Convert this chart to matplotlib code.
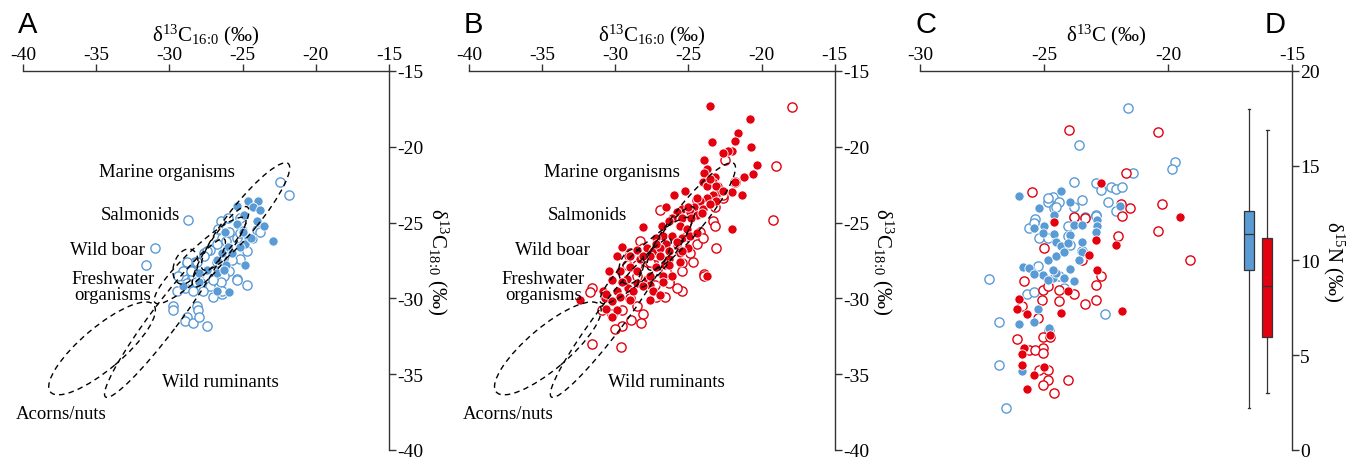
import numpy as np
import matplotlib
matplotlib.use("Agg")
import matplotlib.pyplot as plt
from matplotlib.patches import Ellipse

plt.rcParams['font.family'] = ['Liberation Serif', 'DejaVu Serif']
plt.rcParams['mathtext.fontset'] = 'custom'
plt.rcParams['mathtext.rm'] = 'Liberation Serif'
plt.rcParams['mathtext.default'] = 'regular'
plt.rcParams['axes.unicode_minus'] = False

BLUE = '#5b9bd5'
RED = '#e3000f'

# reference ellipses (delta13C16:0, delta13C18:0)
ell_names = ['Marine organisms', 'Salmonids', 'Wild boar', 'Freshwater organisms', 'Wild ruminants', 'Acorns/nuts']
ell_cx = [-24.8, -26.5, -28.9, -27.9, -30.3, -34.6]
ell_cy = [-24.6, -26.6, -27.9, -27.5, -31.3, -33.3]
ell_w = [9.1, 6.4, 2.4, 8.3, 13.2, 9.1]
ell_h = [2.0, 1.5, 1.6, 1.75, 1.9, 2.8]
ell_ang = [50, 55, 70, 42, 52, 39]

lab_text = ['Marine organisms', 'Salmonids', 'Wild boar', 'Freshwater\norganisms', 'Wild ruminants', 'Acorns/nuts']
lab_ha = ['right', 'right', 'right', 'center', 'left', 'left']
lab_y = [-21.6, -24.5, -26.8, -29.2, -35.5, -37.6]
lab_xA = [-25.5, -29.3, -31.7, -33.85, -30.5, -40.5]
lab_xB = [-25.6, -29.2, -31.7, -34.9, -30.5, -40.4]

# panel A (blue)
a_fill_x = [-24.6, -23.95, -25.4, -24.3, -23.8, -24.9, -24.0, -23.5, -26.2, -25.4, -25.0, -24.6, -24.3, -22.9,
            -26.0, -24.8, -25.2, -25.7, -26.75, -27.4, -26.1, -27.9, -24.8, -29.1, -26.75, -25.9, -28.0,
            -26.4, -26.75, -26.3, -28.0, -24.4, -25.0]
a_fill_y = [-23.6, -23.55, -23.9, -23.95, -24.2, -24.5, -24.9, -25.2, -25.6, -25.1, -25.5, -26.0, -26.1, -26.2,
            -26.6, -26.4, -26.6, -27.0, -27.5, -28.1, -27.8, -28.4, -27.8, -29.2, -29.5, -29.6, -28.95,
            -27.0, -28.3, -28.1, -28.3, -26.05, -25.6]
a_open_x = [-22.45, -21.8, -28.7, -31.0, -31.6, -26.5, -26.0, -25.2, -26.7, -25.9, -26.4, -26.75, -25.4, -26.1,
            -25.2, -24.0, -24.7, -25.2, -25.9, -27.2, -27.6, -26.5, -25.9, -25.4, -26.3, -26.9, -27.2, -24.7,
            -26.5, -28.25, -28.8, -28.8, -28.4, -29.1, -28.7, -28.2, -29.5, -27.7, -26.4, -29.75, -28.1,
            -27.4, -27.6, -28.8, -28.1, -29.1, -28.5, -29.4, -27.9, -28.8, -28.9, -28.4, -27.0, -26.4, -25.4,
            -25.7, -23.8, -29.75, -28.05, -28.8, -28.9, -28.4, -28.0, -27.4, -27.0, -26.75]
a_open_y = [-22.3, -23.2, -24.8, -26.7, -27.8, -24.9, -24.7, -24.7, -25.4, -25.6, -26.05, -26.4, -26.05, -26.2,
            -25.7, -25.5, -26.9, -27.4, -27.2, -26.8, -27.0, -28.0, -28.2, -28.75, -28.5, -28.7, -29.2, -29.1,
            -28.9, -27.6, -27.7, -28.2, -28.55, -28.55, -29.2, -28.95, -29.5, -29.5, -29.7, -30.5, -30.5,
            -26.9, -27.2, -27.6, -27.6, -28.2, -28.2, -28.55, -28.9, -29.0, -29.3, -29.5, -29.9, -29.5, -28.8,
            -27.5, -25.6, -30.8, -30.8, -31.2, -31.5, -31.6, -31.25, -31.8, -28.8, -27.6]

# panel B (red)
b_fill_x = [-23.5, -20.8, -21.6, -21.8, -23.4, -20.7, -22.0, -22.3, -22.6, -23.95, -20.3, -23.7, -20.6, -23.95,
            -21.2, -21.8, -23.2, -24.0, -23.3, -23.75, -23.0, -22.0, -21.3, -22.9, -25.25, -26.0, -23.3, -23.75,
            -24.2, -24.4, -23.1, -22.0, -28.1, -26.5, -25.4, -24.6, -24.9, -25.8, -26.1, -25.4, -24.4, -24.0,
            -23.5, -23.5, -23.1, -22.65, -24.1, -25.0, -24.8, -26.8, -26.3, -25.6, -25.1, -26.75, -26.1, -27.2,
            -25.4, -26.5, -25.8, -29.5, -28.5, -27.85, -27.4, -26.95, -26.3, -25.6, -25.0, -29.9, -29.1, -28.3,
            -27.6, -26.95, -26.3, -25.6, -30.4, -29.7, -29.0, -28.5, -27.2, -26.6, -30.2, -29.2, -27.85, -26.75,
            -26.1, -30.85, -29.9, -29.1, -28.5, -27.6, -30.7, -29.7, -27.6, -32.4, -23.75, -27.2, -25.8, -24.9,
            -24.4, -29.0, -28.1, -29.5, -27.6, -26.3, -25.4, -30.6, -28.8, -28.1, -27.4, -26.75, -30.2, -29.0,
            -26.95, -30.6, -29.9, -30.2]
b_fill_y = [-17.3, -18.2, -19.1, -19.6, -19.7, -20.0, -20.3, -20.3, -20.4, -20.9, -21.2, -21.5, -21.8, -21.7,
            -22.0, -22.3, -22.0, -22.3, -22.3, -22.6, -22.6, -23.0, -23.2, -23.0, -22.9, -23.2, -23.2, -23.4,
            -23.55, -23.4, -23.55, -25.4, -25.3, -23.95, -24.1, -23.95, -24.3, -24.3, -24.7, -24.7, -24.5, -24.1,
            -23.75, -22.1, -22.6, -22.9, -24.4, -23.95, -24.7, -25.2, -24.9, -25.2, -25.4, -25.9, -25.9, -26.05,
            -26.05, -26.4, -26.5, -26.6, -26.8, -26.7, -26.9, -26.7, -26.9, -27.0, -26.7, -27.2, -27.2, -27.4,
            -27.2, -27.2, -27.4, -27.6, -28.2, -28.2, -27.9, -28.2, -27.9, -27.8, -28.8, -28.7, -28.7, -28.5,
            -28.5, -29.5, -29.5, -29.3, -29.0, -29.1, -30.0, -29.9, -30.1, -30.1, -28.5, -26.4, -26.25, -25.9,
            -25.7, -27.2, -27.2, -28.9, -28.5, -27.8, -26.9, -29.7, -29.5, -29.2, -29.5, -28.9, -30.2, -30.1,
            -29.8, -30.7, -30.8, -31.2]
b_open_x = [-17.9, -22.5, -19.0, -21.8, -22.6, -26.95, -19.2, -23.3, -24.4, -23.2, -23.2, -24.4, -23.1, -24.9,
            -25.4, -26.6, -27.3, -31.6, -31.7, -23.95, -27.85, -28.5, -25.8, -26.3, -28.3, -29.0, -27.4, -25.4,
            -24.2, -25.1, -22.65, -27.2, -28.5, -29.5, -30.2, -30.9, -28.1, -28.9, -29.5, -30.0, -28.25, -31.6,
            -29.6, -26.3, -28.5, -27.6, -29.2, -28.1, -27.2, -29.0, -26.5, -25.4, -24.7, -24.0, -23.9]
b_open_y = [-17.4, -20.9, -21.25, -22.3, -23.4, -24.2, -24.8, -24.9, -23.5, -23.95, -25.2, -26.4, -26.7, -27.0,
            -29.5, -29.9, -29.1, -29.3, -29.6, -28.4, -27.6, -28.5, -29.3, -28.9, -26.2, -27.0, -27.7, -27.7,
            -25.6, -25.9, -23.2, -29.9, -30.5, -30.8, -31.0, -30.8, -31.0, -31.4, -31.8, -32.0, -31.6, -33.0,
            -33.2, -29.0, -27.8, -27.6, -27.8, -26.7, -27.2, -30.0, -28.2, -28.2, -27.6, -26.05, -28.5]

# panel C (delta13C, delta15N)
c_bopen_x = [-21.6, -23.6, -19.7, -19.85, -21.4, -23.8, -22.9, -22.7, -22.3, -22.1, -21.85, -23.45, -22.4, -24.65,
             -24.85, -24.6, -23.8, -22.9, -22.1, -25.35, -25.6, -24.85, -24.4, -24.5, -25.4, -25.2, -24.85,
             -24.05, -24.05, -23.8, -23.35, -23.95, -23.45, -25.25, -27.2, -24.4, -22.9, -25.7, -25.4, -24.2,
             -26.8, -24.8, -26.8, -22.55, -26.55]
c_bopen_y = [18.05, 16.1, 15.2, 14.85, 14.6, 14.15, 14.1, 13.7, 13.9, 13.75, 13.85, 13.2, 13.1, 13.35,
             13.1, 12.75, 12.8, 12.4, 12.6, 12.2, 11.7, 13.3, 13.1, 12.8, 12.0, 11.2, 11.2,
             11.8, 11.3, 12.3, 12.3, 10.8, 10.5, 9.7, 9.0, 9.2, 12.35, 8.25, 8.35, 8.55,
             6.75, 6.35, 4.5, 7.2, 2.2]
c_bfill_x = [-26.0, -24.3, -23.95, -25.2, -24.6, -22.85, -21.95, -25.0, -25.4, -23.8, -23.45, -22.85, -25.05,
             -24.6, -23.95, -22.9, -24.5, -24.3, -24.05, -23.45, -23.45, -24.85, -24.5, -24.2, -23.6, -25.85,
             -25.6, -25.05, -25.4, -24.65, -24.5, -24.2, -23.8, -23.95, -24.65, -24.85, -25.25, -26.0, -25.4,
             -24.8, -25.9]
c_bfill_y = [13.4, 13.65, 13.1, 12.75, 12.4, 12.15, 12.85, 11.8, 11.7, 11.85, 11.85, 11.8, 11.45,
             11.4, 11.35, 11.5, 11.0, 10.75, 10.9, 10.45, 11.0, 10.0, 10.25, 10.45, 10.0, 9.65,
             9.6, 9.25, 9.3, 9.1, 9.35, 9.1, 8.9, 9.55, 9.5, 8.95, 7.45, 6.65, 6.75,
             6.45, 4.15]
c_ropen_x = [-24.0, -20.4, -21.7, -25.5, -21.9, -21.55, -20.25, -21.85, -23.8, -23.35, -22.0, -25.0, -23.45,
             -22.7, -22.9, -25.8, -20.4, -19.1, -25.05, -24.85, -24.4, -23.8, -25.1, -24.4, -23.35, -22.9,
             -25.9, -25.25, -26.1, -25.05, -24.75, -25.05, -25.6, -25.35, -25.05, -25.2, -24.85, -24.85,
             -25.05, -24.05, -24.6]
c_ropen_y = [16.9, 16.8, 14.6, 13.6, 13.0, 12.75, 13.0, 12.35, 12.3, 12.25, 11.3, 10.65, 10.0,
             9.2, 8.7, 8.9, 11.55, 10.0, 8.45, 8.65, 8.45, 8.25, 7.9, 7.85, 7.7, 7.9,
             7.6, 6.95, 5.85, 5.95, 5.95, 5.4, 5.25, 5.25, 5.1, 4.2, 4.2, 3.7,
             3.45, 3.7, 3.0]
c_rfill_x = [-22.7, -19.5, -24.6, -22.9, -22.1, -23.2, -22.85, -24.05, -26.0, -26.1, -25.7, -24.3, -21.85,
             -24.75, -25.8, -25.9, -25.9, -25.0, -25.4, -25.7]
c_rfill_y = [14.1, 12.3, 12.05, 11.1, 10.8, 10.3, 9.5, 8.4, 7.95, 7.45, 7.15, 7.25, 7.35,
             6.05, 5.4, 5.05, 4.5, 4.4, 3.95, 3.2]

# panel D boxplot summaries of delta15N
box_colors = [BLUE, RED]
box_lo = [2.2, 3.0]
box_q1 = [9.5, 5.95]
box_med = [11.4, 8.65]
box_q3 = [12.6, 11.2]
box_hi = [18.0, 16.9]

fig = plt.figure(figsize=(13.55, 4.6), dpi=100)
bottom, height = 0.0196, 0.824
axA = fig.add_axes([0.017, bottom, 0.270, height])
axB = fig.add_axes([0.346, bottom, 0.270, height])
axC = fig.add_axes([0.679, bottom, 0.2745, height])
axD = fig.add_axes([0.9085, bottom, 0.04, height])

FS = 13.5
TFS = 14
MS = 44


def style(ax):
    for s in ['left', 'bottom']:
        ax.spines[s].set_visible(False)
    for s in ['top', 'right']:
        ax.spines[s].set_color('#333333')
        ax.spines[s].set_linewidth(1.0)
    ax.xaxis.tick_top()
    ax.yaxis.tick_right()
    ax.xaxis.set_label_position('top')
    ax.yaxis.set_label_position('right')
    ax.tick_params(direction='out', length=5, width=1.0, color='#333333', labelsize=TFS, pad=1)


def scatter_panel(ax, ox, oy, fx, fy, color):
    ax.scatter(ox, oy, s=MS, facecolors='white', edgecolors=color, linewidths=1.0, zorder=3)
    ax.scatter(fx, fy, s=MS, facecolors=color, edgecolors='white', linewidths=0.6, zorder=4)


for ax, labx, ox, oy, fx, fy, col in [(axA, lab_xA, a_open_x, a_open_y, a_fill_x, a_fill_y, BLUE),
                                       (axB, lab_xB, b_open_x, b_open_y, b_fill_x, b_fill_y, RED)]:
    style(ax)
    ax.set_xlim(-40, -15)
    ax.set_ylim(-40, -15)
    ax.set_xticks(np.arange(-40, -14, 5))
    ax.set_yticks(np.arange(-40, -14, 5))
    scatter_panel(ax, ox, oy, fx, fy, col)
    for i in range(len(ell_names)):
        ax.add_patch(Ellipse((ell_cx[i], ell_cy[i]), ell_w[i], ell_h[i], angle=ell_ang[i], fill=False,
                             ls=(0, (4, 3)), lw=1.0, ec='black', zorder=5))
    for i in range(len(lab_text)):
        ax.text(labx[i], lab_y[i], lab_text[i], ha=lab_ha[i], va='center', fontsize=FS,
                linespacing=0.95, zorder=6)
    ax.set_xlabel(r'δ$^{13}$C$_{16\!:\!0}$ (‰)', fontsize=15, labelpad=4)
    ax.set_ylabel(r'δ$^{13}$C$_{18\!:\!0}$ (‰)', fontsize=15, rotation=270, labelpad=19)

style(axC)
axC.set_xlim(-30, -15)
axC.set_ylim(0, 20)
axC.set_xticks(np.arange(-30, -14, 5))
axC.set_yticks(np.arange(0, 21, 5))
scatter_panel(axC, c_bopen_x, c_bopen_y, c_bfill_x, c_bfill_y, BLUE)
scatter_panel(axC, c_ropen_x, c_ropen_y, c_rfill_x, c_rfill_y, RED)
axC.set_xlabel(r'δ$^{13}$C (‰)', fontsize=15, labelpad=4)
axC.set_ylabel(r'δ$^{15}$N (‰)', fontsize=15, rotation=270, labelpad=19)

stats = []
for i in range(2):
    stats.append({'whislo': box_lo[i], 'q1': box_q1[i], 'med': box_med[i], 'q3': box_q3[i],
                  'whishi': box_hi[i], 'fliers': []})
bp = axD.bxp(stats, positions=[1, 2], widths=0.55, patch_artist=True, showfliers=False,
             capwidths=0.15,
             boxprops=dict(edgecolor='#333333', linewidth=0.9),
             medianprops=dict(color='#333333', linewidth=0.9),
             whiskerprops=dict(color='#333333', linewidth=0.9),
             capprops=dict(color='#333333', linewidth=0.9))
for patch, c in zip(bp['boxes'], box_colors):
    patch.set_facecolor(c)
axD.set_xlim(0, 3)
axD.set_ylim(0, 20)
axD.axis('off')

for lbl, x in [('A', 0.013), ('B', 0.342), ('C', 0.676), ('D', 0.933)]:
    fig.text(x, 0.945, lbl, fontsize=21, family='Liberation Sans', va='center', ha='left')

fig.savefig('out.png', dpi=100)
